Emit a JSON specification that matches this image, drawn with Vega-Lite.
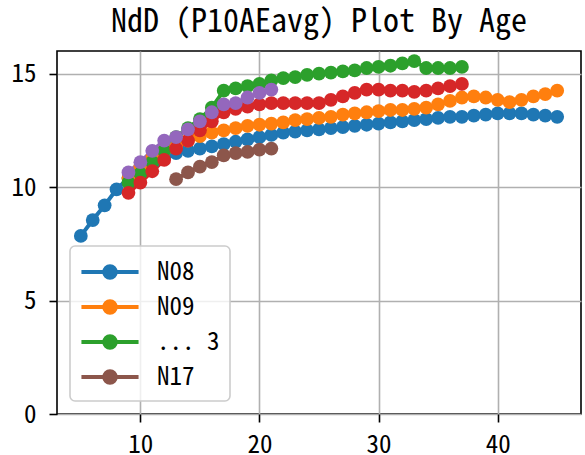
{
  "$schema": "https://vega.github.io/schema/vega-lite/v6.json",
  "width": 524,
  "height": 363,
  "autosize": "none",
  "padding": {"left": 57, "top": 51, "right": 4, "bottom": 41},
  "background": "white",
  "title": {
    "text": "NdD (P10AEavg) Plot By Age",
    "font": "Noto Sans Mono CJK SC, DejaVu Sans Mono",
    "fontSize": 32,
    "fontWeight": "normal",
    "color": "black",
    "anchor": "middle",
    "offset": 12
  },
  "config": {
    "view": {"stroke": "black", "strokeWidth": 1.6},
    "axis": {
      "labelFont": "Noto Sans Mono CJK SC, DejaVu Sans Mono",
      "labelFontSize": 25,
      "labelColor": "black",
      "domain": false,
      "tickColor": "black",
      "tickSize": 8,
      "tickWidth": 1.6,
      "gridColor": "#b0b0b0",
      "gridWidth": 1.6,
      "gridOpacity": 1,
      "title": null
    }
  },
  "data": {
    "values": [
      {"s":"N08","age":5,"v":7.85},{"s":"N08","age":6,"v":8.55},{"s":"N08","age":7,"v":9.2},{"s":"N08","age":8,"v":9.9},{"s":"N08","age":9,"v":10.4},{"s":"N08","age":10,"v":10.75},{"s":"N08","age":11,"v":11.05},{"s":"N08","age":12,"v":11.3},{"s":"N08","age":13,"v":11.5},{"s":"N08","age":14,"v":11.6},{"s":"N08","age":15,"v":11.7},{"s":"N08","age":16,"v":11.8},{"s":"N08","age":17,"v":11.9},{"s":"N08","age":18,"v":12.0},{"s":"N08","age":19,"v":12.1},{"s":"N08","age":20,"v":12.2},{"s":"N08","age":21,"v":12.3},{"s":"N08","age":22,"v":12.4},{"s":"N08","age":23,"v":12.45},{"s":"N08","age":24,"v":12.5},{"s":"N08","age":25,"v":12.55},{"s":"N08","age":26,"v":12.6},{"s":"N08","age":27,"v":12.65},{"s":"N08","age":28,"v":12.7},{"s":"N08","age":29,"v":12.75},{"s":"N08","age":30,"v":12.8},{"s":"N08","age":31,"v":12.85},{"s":"N08","age":32,"v":12.9},{"s":"N08","age":33,"v":12.95},{"s":"N08","age":34,"v":13.0},{"s":"N08","age":35,"v":13.05},{"s":"N08","age":36,"v":13.1},{"s":"N08","age":37,"v":13.1},{"s":"N08","age":38,"v":13.15},{"s":"N08","age":39,"v":13.2},{"s":"N08","age":40,"v":13.25},{"s":"N08","age":41,"v":13.25},{"s":"N08","age":42,"v":13.25},{"s":"N08","age":43,"v":13.2},{"s":"N08","age":44,"v":13.15},{"s":"N08","age":45,"v":13.1},
      {"s":"N09","age":9,"v":10.4},{"s":"N09","age":10,"v":10.9},{"s":"N09","age":11,"v":11.3},{"s":"N09","age":12,"v":11.6},{"s":"N09","age":13,"v":11.8},{"s":"N09","age":14,"v":12.05},{"s":"N09","age":15,"v":12.25},{"s":"N09","age":16,"v":12.4},{"s":"N09","age":17,"v":12.5},{"s":"N09","age":18,"v":12.6},{"s":"N09","age":19,"v":12.7},{"s":"N09","age":20,"v":12.75},{"s":"N09","age":21,"v":12.8},{"s":"N09","age":22,"v":12.85},{"s":"N09","age":23,"v":12.95},{"s":"N09","age":24,"v":13.0},{"s":"N09","age":25,"v":13.05},{"s":"N09","age":26,"v":13.1},{"s":"N09","age":27,"v":13.2},{"s":"N09","age":28,"v":13.25},{"s":"N09","age":29,"v":13.3},{"s":"N09","age":30,"v":13.35},{"s":"N09","age":31,"v":13.4},{"s":"N09","age":32,"v":13.4},{"s":"N09","age":33,"v":13.45},{"s":"N09","age":34,"v":13.5},{"s":"N09","age":35,"v":13.65},{"s":"N09","age":36,"v":13.8},{"s":"N09","age":37,"v":13.95},{"s":"N09","age":38,"v":14.0},{"s":"N09","age":39,"v":13.95},{"s":"N09","age":40,"v":13.85},{"s":"N09","age":41,"v":13.75},{"s":"N09","age":42,"v":13.85},{"s":"N09","age":43,"v":14.0},{"s":"N09","age":44,"v":14.1},{"s":"N09","age":45,"v":14.25},
      {"s":"... 3","age":9,"v":10.2},{"s":"... 3","age":10,"v":10.6},{"s":"... 3","age":11,"v":11.1},{"s":"... 3","age":12,"v":11.6},{"s":"... 3","age":13,"v":12.2},{"s":"... 3","age":14,"v":12.6},{"s":"... 3","age":15,"v":13.0},{"s":"... 3","age":16,"v":13.5},{"s":"... 3","age":17,"v":14.25},{"s":"... 3","age":18,"v":14.35},{"s":"... 3","age":19,"v":14.45},{"s":"... 3","age":20,"v":14.55},{"s":"... 3","age":21,"v":14.7},{"s":"... 3","age":22,"v":14.8},{"s":"... 3","age":23,"v":14.85},{"s":"... 3","age":24,"v":14.95},{"s":"... 3","age":25,"v":15.0},{"s":"... 3","age":26,"v":15.05},{"s":"... 3","age":27,"v":15.1},{"s":"... 3","age":28,"v":15.15},{"s":"... 3","age":29,"v":15.25},{"s":"... 3","age":30,"v":15.3},{"s":"... 3","age":31,"v":15.35},{"s":"... 3","age":32,"v":15.45},{"s":"... 3","age":33,"v":15.55},{"s":"... 3","age":34,"v":15.25},{"s":"... 3","age":35,"v":15.25},{"s":"... 3","age":36,"v":15.25},{"s":"... 3","age":37,"v":15.3},
      {"s":"N10","age":9,"v":9.75},{"s":"N10","age":10,"v":10.2},{"s":"N10","age":11,"v":10.7},{"s":"N10","age":12,"v":11.2},{"s":"N10","age":13,"v":11.7},{"s":"N10","age":14,"v":12.05},{"s":"N10","age":15,"v":12.5},{"s":"N10","age":16,"v":12.9},{"s":"N10","age":17,"v":13.3},{"s":"N10","age":18,"v":13.45},{"s":"N10","age":19,"v":13.55},{"s":"N10","age":20,"v":13.65},{"s":"N10","age":21,"v":13.7},{"s":"N10","age":22,"v":13.7},{"s":"N10","age":23,"v":13.7},{"s":"N10","age":24,"v":13.7},{"s":"N10","age":25,"v":13.7},{"s":"N10","age":26,"v":13.85},{"s":"N10","age":27,"v":14.0},{"s":"N10","age":28,"v":14.15},{"s":"N10","age":29,"v":14.3},{"s":"N10","age":30,"v":14.3},{"s":"N10","age":31,"v":14.25},{"s":"N10","age":32,"v":14.25},{"s":"N10","age":33,"v":14.2},{"s":"N10","age":34,"v":14.25},{"s":"N10","age":35,"v":14.35},{"s":"N10","age":36,"v":14.45},{"s":"N10","age":37,"v":14.55},
      {"s":"N12","age":9,"v":10.65},{"s":"N12","age":10,"v":11.1},{"s":"N12","age":11,"v":11.6},{"s":"N12","age":12,"v":12.05},{"s":"N12","age":13,"v":12.2},{"s":"N12","age":14,"v":12.55},{"s":"N12","age":15,"v":12.9},{"s":"N12","age":16,"v":13.3},{"s":"N12","age":17,"v":13.65},{"s":"N12","age":18,"v":13.7},{"s":"N12","age":19,"v":13.95},{"s":"N12","age":20,"v":14.15},{"s":"N12","age":21,"v":14.3},
      {"s":"N17","age":13,"v":10.35},{"s":"N17","age":14,"v":10.65},{"s":"N17","age":15,"v":10.9},{"s":"N17","age":16,"v":11.1},{"s":"N17","age":17,"v":11.4},{"s":"N17","age":18,"v":11.5},{"s":"N17","age":19,"v":11.55},{"s":"N17","age":20,"v":11.65},{"s":"N17","age":21,"v":11.7}
    ]
  },
  "mark": {"type": "line", "strokeWidth": 4, "point": {"filled": true, "size": 190, "opacity": 1}},
  "encoding": {
    "x": {"field": "age", "type": "quantitative", "scale": {"domain": [3, 47], "nice": false, "zero": false}, "axis": {"values": [10, 20, 30, 40], "grid": true, "labelPadding": 10}},
    "y": {"field": "v", "type": "quantitative", "scale": {"domain": [0, 16], "nice": false}, "axis": {"values": [0, 5, 10, 15], "grid": true, "labelPadding": 13}},
    "color": {
      "field": "s",
      "type": "nominal",
      "sort": null,
      "scale": {"domain": ["N08", "N09", "... 3", "N10", "N12", "N17"], "range": ["#1f77b4", "#ff7f0e", "#2ca02c", "#d62728", "#9467bd", "#8c564b"]},
      "legend": {
        "values": ["N08", "N09", "... 3", "N17"],
        "title": null,
        "orient": "bottom-left",
        "offset": 13,
        "fillColor": "rgba(255,255,255,0.8)",
        "strokeColor": "#cccccc",
        "cornerRadius": 5,
        "padding": 10,
        "symbolType": "M-2.04,0L2.04,0M0.41,0A0.41,0.41,0,1,1,-0.41,0A0.41,0.41,0,1,1,0.41,0Z",
        "symbolSize": 784,
        "symbolOffset": 14,
        "symbolStrokeWidth": 4,
        "symbolOpacity": 1,
        "labelFont": "Noto Sans Mono CJK SC, DejaVu Sans Mono",
        "labelFontSize": 25,
        "labelColor": "black",
        "labelOffset": 31,
        "rowPadding": 5,
        "encode": {
          "legend": {"update": {"strokeWidth": {"value": 1.6}}},
          "symbols": {"update": {"fill": {"scale": "color", "field": "value"}, "stroke": {"scale": "color", "field": "value"}, "fillOpacity": {"value": 1}, "strokeOpacity": {"value": 1}}}
        }
      }
    }
  }
}
